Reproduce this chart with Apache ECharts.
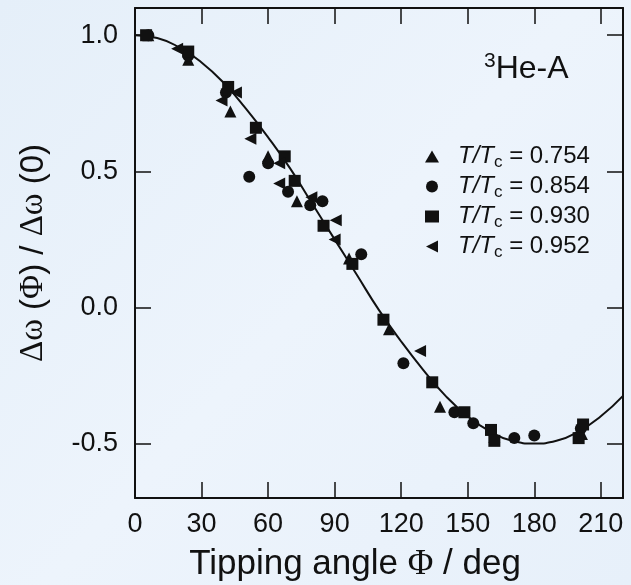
<!DOCTYPE html>
<html>
<head>
<meta charset="utf-8">
<script src="https://cdn.jsdelivr.net/npm/echarts@6/dist/echarts.min.js"></script>
<style>
  html, body { margin: 0; padding: 0; }
  #chart { width: 631px; height: 585px; }
</style>
</head>
<body>
<div id="chart"></div>
<script>
// tick positions
const xTicks = [0, 30, 60, 90, 120, 150, 180, 210];
const yTicks = [-0.5, 0, 0.5, 1.0];

// theory curve
const curvePhi = [0, 10, 20, 30, 40, 50, 60, 70, 80, 90, 100, 110, 120, 130, 140, 150, 160, 170, 180, 190, 200, 210, 220];
const curveVal = [1.0, 0.99, 0.955, 0.9, 0.825, 0.73, 0.625, 0.51, 0.38, 0.25, 0.12, -0.01, -0.125, -0.23, -0.325, -0.4, -0.455, -0.49, -0.5, -0.49, -0.455, -0.4, -0.325];

// measured points [phi, value]
const pts754 = [[6, 1.0], [24, 0.91], [43, 0.72], [60, 0.555], [73, 0.39], [96.5, 0.18], [114.5, -0.08], [137.5, -0.365], [162, -0.475], [201.5, -0.465]];
const pts854 = [[6, 1.0], [24, 0.925], [41, 0.79], [51.5, 0.48], [60, 0.53], [69, 0.425], [79, 0.375], [84.5, 0.39], [102, 0.195], [121, -0.205], [144, -0.385], [152.5, -0.425], [171, -0.48], [180, -0.47], [201, -0.445]];
const pts930 = [[5, 1.0], [24, 0.94], [42, 0.81], [54.5, 0.66], [67.5, 0.555], [72, 0.465], [85, 0.3], [98, 0.16], [112, -0.045], [134, -0.275], [148.5, -0.385], [160.5, -0.45], [162, -0.49], [202, -0.43], [200, -0.48]];
const pts952 = [[19, 0.95], [39, 0.76], [45.5, 0.79], [52, 0.62], [65, 0.53], [65, 0.455], [79.5, 0.405], [90.5, 0.32], [90, 0.25], [128.5, -0.16]];

const names = ['T/Tc = 0.754', 'T/Tc = 0.854', 'T/Tc = 0.930', 'T/Tc = 0.952'];

const ink = '#111111';
const sans = '"Liberation Sans", Arial, sans-serif';
const serif = '"Liberation Serif", "Times New Roman", serif';
const leftTri = 'path://M0,5L10,0L10,10Z';

const myChart = echarts.init(document.getElementById('chart'), null, { renderer: 'canvas' });

const frameAxis = (extra) => Object.assign({
  type: 'value',
  axisLine: { show: true, onZero: false, lineStyle: { color: ink, width: 2 } },
  splitLine: { show: false },
}, extra);

const tickStyle = (vals) => ({ show: true, inside: true, length: 16, customValues: vals, lineStyle: { color: ink, width: 1.5 } });

const option = {
  backgroundColor: new echarts.graphic.LinearGradient(0, 0, 1, 1, [
    { offset: 0, color: '#e5eff9' },
    { offset: 0.5, color: '#edf4fc' },
    { offset: 1, color: '#e7f0fa' }
  ]),
  animation: false,
  title: {
    text: '{sup|3}{b|He-A}',
    left: 479,
    top: 46,
    textStyle: {
      rich: {
        sup: { fontFamily: sans, fontWeight: 'normal', fontSize: 21, color: ink, padding: [0, 0, 16, 0] },
        b: { fontFamily: sans, fontWeight: 'normal', fontSize: 32, color: ink }
      }
    }
  },
  legend: {
    orient: 'vertical',
    left: 420,
    top: 137,
    itemWidth: 14,
    itemHeight: 12,
    itemGap: 1,
    data: [
      { name: names[0], icon: 'triangle' },
      { name: names[1], icon: 'circle' },
      { name: names[2], icon: 'rect' },
      { name: names[3], icon: leftTri }
    ],
    formatter: (name) => '{i|T/T}{s|c}{n| = ' + name.split('= ')[1] + '}',
    textStyle: {
      padding: [0, 0, 0, 14],
      rich: {
        i: { fontFamily: sans, fontStyle: 'italic', fontSize: 24, color: ink, lineHeight: 30 },
        s: { fontFamily: sans, fontSize: 17, color: ink, padding: [12, 0, 0, 0], lineHeight: 30 },
        n: { fontFamily: sans, fontSize: 24, color: ink, lineHeight: 30 }
      }
    }
  },
  grid: { left: 135, right: 8, top: 8, bottom: 87, containLabel: false, outerBoundsMode: 'none' },
  xAxis: [
    frameAxis({
      min: 0, max: 220, interval: 30,
      axisTick: tickStyle(xTicks),
      axisLabel: { customValues: xTicks, margin: 13, color: ink, fontFamily: sans, fontSize: 27 },
      name: '{a|Tipping angle }{g|Φ}{a| / deg}',
      nameLocation: 'middle',
      nameGap: 49,
      nameTextStyle: {
        padding: [0, 48, 0, 0],
        rich: {
          a: { fontFamily: sans, fontSize: 35, color: ink },
          g: { fontFamily: serif, fontSize: 35, color: ink }
        }
      }
    }),
    frameAxis({
      position: 'top', min: 0, max: 220, interval: 30,
      axisTick: tickStyle(xTicks),
      axisLabel: { show: false }
    })
  ],
  yAxis: [
    frameAxis({
      min: -0.7, max: 1.1, interval: 0.1,
      axisTick: tickStyle(yTicks),
      axisLabel: {
        customValues: yTicks, margin: 17, color: ink, fontFamily: sans, fontSize: 27,
        formatter: (v) => v.toFixed(1)
      },
      name: '{g|Δω}{a| (}{g|Φ}{a|) / }{g|Δω}{a| (0)}',
      nameLocation: 'middle',
      nameRotate: 90,
      nameGap: 85,
      nameTextStyle: {
        rich: {
          a: { fontFamily: sans, fontSize: 33, color: ink },
          g: { fontFamily: serif, fontSize: 33, color: ink }
        }
      }
    }),
    frameAxis({
      position: 'right', min: -0.7, max: 1.1, interval: 0.1,
      axisTick: tickStyle(yTicks),
      axisLabel: { show: false }
    })
  ],
  series: [
    {
      name: 'theory',
      type: 'line',
      data: curvePhi.map((p, i) => [p, curveVal[i]]),
      smooth: true,
      showSymbol: false,
      lineStyle: { color: ink, width: 2 },
      z: 1,
      silent: true
    },
    {
      name: names[0], type: 'scatter', data: pts754,
      symbol: 'triangle', symbolSize: 12, itemStyle: { color: ink, opacity: 1 }, z: 3
    },
    {
      name: names[1], type: 'scatter', data: pts854,
      symbol: 'circle', symbolSize: 12, itemStyle: { color: ink, opacity: 1 }, z: 3
    },
    {
      name: names[2], type: 'scatter', data: pts930,
      symbol: 'rect', symbolSize: 12, itemStyle: { color: ink, opacity: 1 }, z: 3
    },
    {
      name: names[3], type: 'scatter', data: pts952,
      symbol: leftTri, symbolSize: 12, itemStyle: { color: ink, opacity: 1 }, z: 3
    }
  ]
};

myChart.setOption(option);
</script>
</body>
</html>
